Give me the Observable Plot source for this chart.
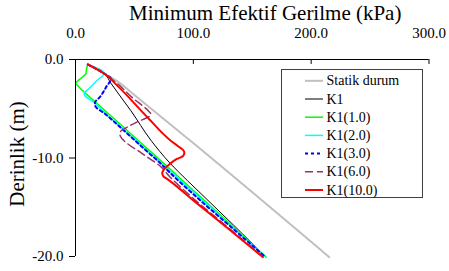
<!DOCTYPE html>
<html>
<head>
<meta charset="utf-8">
<script src="https://cdn.jsdelivr.net/npm/d3@7"></script>
<script src="https://cdn.jsdelivr.net/npm/@observablehq/plot@0.6"></script>
<style>
  html, body { margin: 0; padding: 0; background: #fff; }
  #chart { width: 449px; height: 271px; }
  #chart svg text { font-family: "Liberation Serif", "Times New Roman", serif; }
</style>
</head>
<body>
<div id="chart"></div>
<script>
// ---- data (kPa vs depth m) ----
const seriesNames = ["Statik durum", "K1", "K1(1.0)", "K1(2.0)", "K1(3.0)", "K1(6.0)", "K1(10.0)"];
const xTicks = [0, 100, 200, 300];
const yTicks = [0, -10, -20];

const statikX = [10.4, 24.2, 37, 50, 95, 215.4];
const statikY = [-0.5, -1.42, -2.35, -3.6, -8.0, -20.07];

const k1X = [10.4, 24.2, 30, 36, 47, 64, 80, 95, 106.6, 134, 161.5];
const k1Y = [-0.5, -1.42, -2.4, -3.4, -5.2, -8.2, -10.5, -12.3, -13.63, -16.8, -20.05];

const k1_1X = [10.4, 9.4, 8.8, 6.5, 1.2, 0.2, 1.5, 24.3, 53, 80, 107.3, 135, 161.7];
const k1_1Y = [-0.5, -0.95, -1.45, -1.72, -2.25, -2.45, -2.62, -5.1, -8.2, -11.1, -14.1, -17.1, -20.05];

const k1_2X = [10.4, 24.2, 18, 11.5, 8.2, 7.3, 8.5, 14, 23, 52, 79, 106, 134, 161.7];
const k1_2Y = [-0.5, -1.42, -2.15, -2.95, -3.3, -3.5, -3.75, -4.2, -5.2, -8.3, -11.2, -14.1, -17.1, -20.05];

const k1_3X = [10.4, 24.2, 30, 26, 20.8, 16.5, 16.6, 26, 41.5, 58.5, 72.6, 78.5, 103, 132, 161.2];
const k1_3Y = [-0.5, -1.42, -1.95, -2.8, -3.8, -4.4, -4.65, -5.6, -7.25, -9.1, -10.6, -11.3, -14.0, -17.0, -20.05];

const k1_6X = [10.4, 24.2, 36, 49, 62.5, 63.8, 63, 52, 42, 38, 37.8, 40, 56, 72.6, 80, 98, 128, 159.5];
const k1_6Y = [-0.5, -1.42, -2.5, -3.95, -5.3, -5.5, -5.75, -6.35, -7.0, -7.35, -7.7, -8.1, -9.5, -10.9, -11.9, -13.9, -16.9, -20.05];

const k1_10X = [10.4, 24.2, 35, 61, 80.6, 87, 91, 92.4, 91.2, 86, 80, 75.5, 73.6, 74.5, 78, 100, 130, 159];
const k1_10Y = [-0.5, -1.42, -2.6, -5.86, -8.22, -8.8, -9.15, -9.45, -9.8, -10.1, -10.6, -11.1, -11.5, -11.85, -12.15, -14.3, -17.2, -20.07];

const seriesX = [statikX, k1X, k1_1X, k1_2X, k1_3X, k1_6X, k1_10X];
const seriesY = [statikY, k1Y, k1_1Y, k1_2Y, k1_3Y, k1_6Y, k1_10Y];

// ---- styles ----
const styles = [
  {stroke: "#c0c0c0", strokeWidth: 2, dash: null},
  {stroke: "#000000", strokeWidth: 1, dash: null},
  {stroke: "#00ff00", strokeWidth: 1.5, dash: null},
  {stroke: "#00ffff", strokeWidth: 1.5, dash: null},
  {stroke: "#0000ff", strokeWidth: 2, dash: "3,3"},
  {stroke: "#993366", strokeWidth: 1.5, dash: "8,4"},
  {stroke: "#ff0000", strokeWidth: 2, dash: null}
];

const font = "'Liberation Serif', 'Times New Roman', serif";

const lineMarks = seriesNames.map((name, i) => {
  const data = seriesX[i].map((x, j) => ({x, y: seriesY[i][j]}));
  const s = styles[i];
  return Plot.line(data, {
    x: "x", y: "y", stroke: s.stroke, strokeWidth: s.strokeWidth,
    strokeDasharray: s.dash || undefined, curve: "monotone-y"
  });
});

function legendMark() {
  const g = d3.create("svg:g");
  g.append("rect")
    .attr("x", 281.5).attr("y", 69.5).attr("width", 141).attr("height", 128)
    .attr("fill", "white").attr("stroke", "#404040").attr("stroke-width", 1);
  seriesNames.forEach((name, i) => {
    const y = 80.8 + 18.2 * i;
    const s = styles[i];
    g.append("line")
      .attr("x1", 305).attr("x2", 323).attr("y1", y).attr("y2", y)
      .attr("stroke", s.stroke).attr("stroke-width", s.strokeWidth)
      .attr("stroke-dasharray", s.dash);
    g.append("text")
      .attr("x", 326.5).attr("y", y).attr("dy", "0.33em")
      .attr("text-anchor", "start")
      .attr("font-family", font).attr("font-size", 14)
      .attr("fill", "#000")
      .text(name);
  });
  return g.node();
}

const chart = Plot.plot({
  width: 449,
  height: 271,
  marginTop: 59,
  marginLeft: 75,
  marginRight: 20.5,
  marginBottom: 15,
  style: {fontFamily: font, background: "#fff", overflow: "visible", color: "#000"},
  x: {domain: [0, 300]},
  y: {domain: [-20, 0]},
  marks: [
    ...lineMarks,
    Plot.ruleY([0], {stroke: "#000", strokeWidth: 1}),
    Plot.ruleX([0], {stroke: "#000", strokeWidth: 1}),
    Plot.ruleX(xTicks.slice(1), {x: d => d, y1: 0, y2: -0.5, stroke: "#000"}),
    Plot.axisX({anchor: "top", ticks: xTicks, tickFormat: d => d.toFixed(1), tickSize: 0, tickPadding: 22, fontSize: 15, label: null}),
    Plot.axisY({anchor: "left", ticks: yTicks, tickFormat: d => d.toFixed(1), tickSize: 6, tickPadding: 6, fontSize: 15, label: null}),
    Plot.text(["Minimum Efektif Gerilme (kPa)"], {frameAnchor: "top", lineAnchor: "middle", textAnchor: "middle", dx: 13, dy: -46, fontSize: 21, fill: "#000"}),
    Plot.text(["Derinlik (m)"], {frameAnchor: "left", lineAnchor: "middle", textAnchor: "middle", rotate: -90, dx: -58, dy: -4, fontSize: 21, fill: "#000"}),
    legendMark
  ]
});
document.getElementById("chart").appendChild(chart);
</script>
</body>
</html>
